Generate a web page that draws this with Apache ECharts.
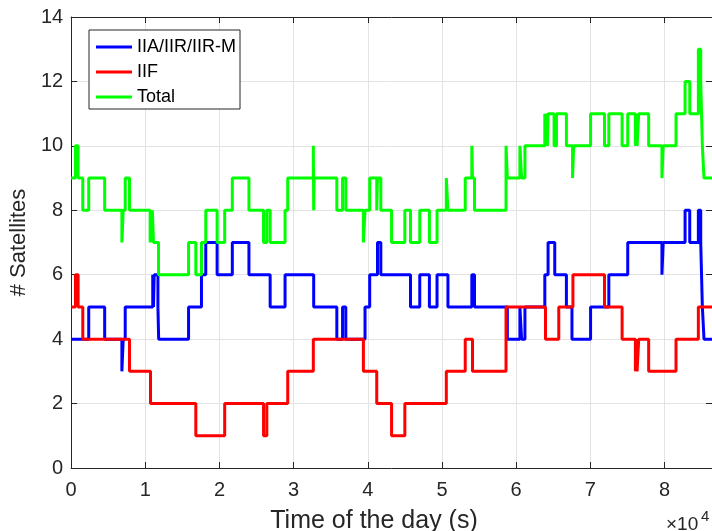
<!DOCTYPE html>
<html>
<head>
<meta charset="utf-8">
<script src="https://cdn.jsdelivr.net/npm/echarts@6/dist/echarts.min.js"></script>
<style>
  html, body { margin: 0; padding: 0; background: #fff; overflow: hidden; }
  #chart { width: 712px; height: 531px; }
</style>
</head>
<body>
<div id="chart"></div>
<script>
// step points: [time (s), count from that time on]
const blueSteps = [
  [0, 4], [2370, 5], [4520, 4], [6840, 3], [7020, 4], [7290, 5],
  [11000, 6], [11100, 5], [11200, 6], [11700, 5], [11800, 4],
  [15830, 5], [17570, 6], [18150, 7], [19680, 6], [21730, 7], [23970, 6], [26830, 5],
  [28840, 6], [32700, 5], [35820, 4], [36590, 5], [37030, 4],
  [39620, 5], [40250, 6], [41300, 7], [41750, 6],
  [45750, 5], [47000, 6], [48300, 5], [49330, 6], [50800, 5], [54020, 6], [54380, 5],
  [58810, 4], [60500, 5], [60730, 4], [61180, 5], [63860, 6], [64300, 7], [65200, 6],
  [66770, 5], [67520, 4], [70030, 5],
  [72490, 6], [75040, 7], [79650, 6], [79820, 7], [82770, 8], [83400, 7],
  [84560, 8], [84880, 7], [85100, 5], [85320, 4], [86400, 4]
];
const redSteps = [
  [0, 5], [580, 6], [940, 5], [1570, 4], [7870, 3], [10700, 2],
  [16810, 1], [20700, 2], [25940, 1], [26380, 2],
  [29200, 3], [32650, 4], [39400, 3], [41200, 2],
  [43200, 1], [44990, 2], [50580, 3], [53130, 4], [54110, 3],
  [58630, 5], [63950, 4], [65740, 5], [67650, 6],
  [71910, 5], [74280, 4], [76070, 3], [76200, 4], [76300, 3], [76520, 4],
  [77860, 3], [81550, 4], [84560, 5], [86400, 5]
];
const totalSteps = [
  [0, 9], [580, 10], [940, 9], [1570, 8], [2370, 9], [4520, 8], [6840, 7], [7020, 8],
  [7290, 9], [7870, 8],
  [10650, 7], [10750, 8], [10850, 7], [10950, 8], [11100, 7], [11780, 6],
  [15830, 7], [16810, 6], [17570, 7], [18150, 8], [19680, 7], [20700, 8], [21730, 9],
  [23970, 8], [25940, 7], [26380, 8], [26830, 7],
  [28840, 8], [29200, 9], [32650, 10], [32700, 8], [32750, 9], [35820, 8], [36590, 9],
  [37030, 8], [39400, 7], [39620, 8], [40250, 9], [41200, 8], [41300, 9], [41750, 8],
  [43200, 7], [44990, 8], [45750, 7], [47000, 8], [48300, 7], [49330, 8], [50580, 9],
  [50800, 8], [53130, 9], [54020, 10], [54110, 9], [54380, 8],
  [58630, 10], [58810, 9], [60500, 10], [60730, 9], [61180, 10],
  [63860, 11], [63950, 10], [64100, 11], [64200, 10], [64300, 11], [65110, 10], [65430, 11],
  [66770, 10], [67600, 9], [67750, 10], [70030, 11],
  [71910, 10], [72490, 11], [74280, 10], [75040, 11], [76070, 10], [76200, 11], [76300, 10],
  [76520, 11], [77860, 10], [79650, 9], [79820, 10], [81550, 11], [82770, 12], [83400, 11],
  [84560, 13], [84880, 12], [85100, 10], [85320, 9], [86400, 9]
];
const seriesNames = ['IIA/IIR/IIR-M', 'IIF', 'Total'];
const seriesColors = ['#0000ff', '#ff0000', '#00ff00'];
const xTickLabels = ['0', '1', '2', '3', '4', '5', '6', '7', '8'];
const yTickLabels = ['0', '2', '4', '6', '8', '10', '12', '14'];

const chart = echarts.init(document.getElementById('chart'));
const font = 'Liberation Sans';
const ink = '#262626';

// MATLAB-like box: ticks pointing into the plot on all four sides
function axisStyle(extra) {
  return Object.assign({
    axisLine: { show: true, onZero: false, lineStyle: { color: ink, width: 1 } },
    axisTick: { show: true, inside: true, length: 6, lineStyle: { color: ink, width: 1 } },
  }, extra);
}

const option = {
  animation: false,
  backgroundColor: '#fff',
  grid: { left: 69, right: -1, top: 17, bottom: 63 },
  legend: {
    data: seriesNames,
    orient: 'vertical',
    left: 89,
    top: 30,
    padding: [7, 4, 2, 7],
    itemGap: 5,
    icon: 'rect',
    itemWidth: 36,
    itemHeight: 3,
    backgroundColor: '#fff',
    borderColor: ink,
    borderWidth: 1,
    borderRadius: 0,
    textStyle: { fontFamily: font, fontSize: 18, lineHeight: 20, color: '#000' },
  },
  xAxis: [
    axisStyle({
      type: 'value', min: 0, max: 86400, interval: 10000, position: 'bottom',
      axisLabel: {
        margin: 12, fontFamily: font, fontSize: 20, color: ink, showMaxLabel: false,
        formatter: v => xTickLabels[v / 10000] || '',
      },
      splitLine: { show: true, lineStyle: { color: '#e3e3e3', width: 1 } },
    }),
    axisStyle({
      type: 'value', min: 0, max: 86400, interval: 10000, position: 'top',
      axisLabel: { show: false }, splitLine: { show: false },
    }),
  ],
  yAxis: [
    axisStyle({
      type: 'value', min: 0, max: 14, interval: 2, position: 'left',
      name: '# Satellites', nameLocation: 'middle', nameGap: 38,
      nameTextStyle: { fontFamily: font, fontSize: 22, color: ink },
      axisLabel: {
        margin: 8, fontFamily: font, fontSize: 20, color: ink,
        formatter: v => yTickLabels[v / 2],
      },
      splitLine: { show: true, lineStyle: { color: '#e3e3e3', width: 1 } },
    }),
    axisStyle({
      type: 'value', min: 0, max: 14, interval: 2, position: 'right',
      axisLabel: { show: false }, splitLine: { show: false },
    }),
  ],
  series: [blueSteps, redSteps, totalSteps].map((d, i) => ({
    name: seriesNames[i],
    type: 'line',
    step: 'end',
    data: d,
    symbol: 'none',
    lineStyle: { color: seriesColors[i], width: 3 },
    itemStyle: { color: seriesColors[i] },
    z: 2 + i,
  })),
  graphic: [
    {
      type: 'text', x: 374, y: 521,
      style: {
        text: 'Time of the day (s)', fontFamily: font, fontSize: 25, fill: ink,
        align: 'center', verticalAlign: 'middle',
      },
    },
    {
      type: 'text', left: 666, top: 515,
      style: { text: '×10', fontFamily: font, fontSize: 19, fill: ink },
    },
    {
      type: 'text', left: 701, top: 509,
      style: { text: '4', fontFamily: font, fontSize: 15, fill: ink },
    },
  ],
};

chart.setOption(option);
</script>
</body>
</html>
